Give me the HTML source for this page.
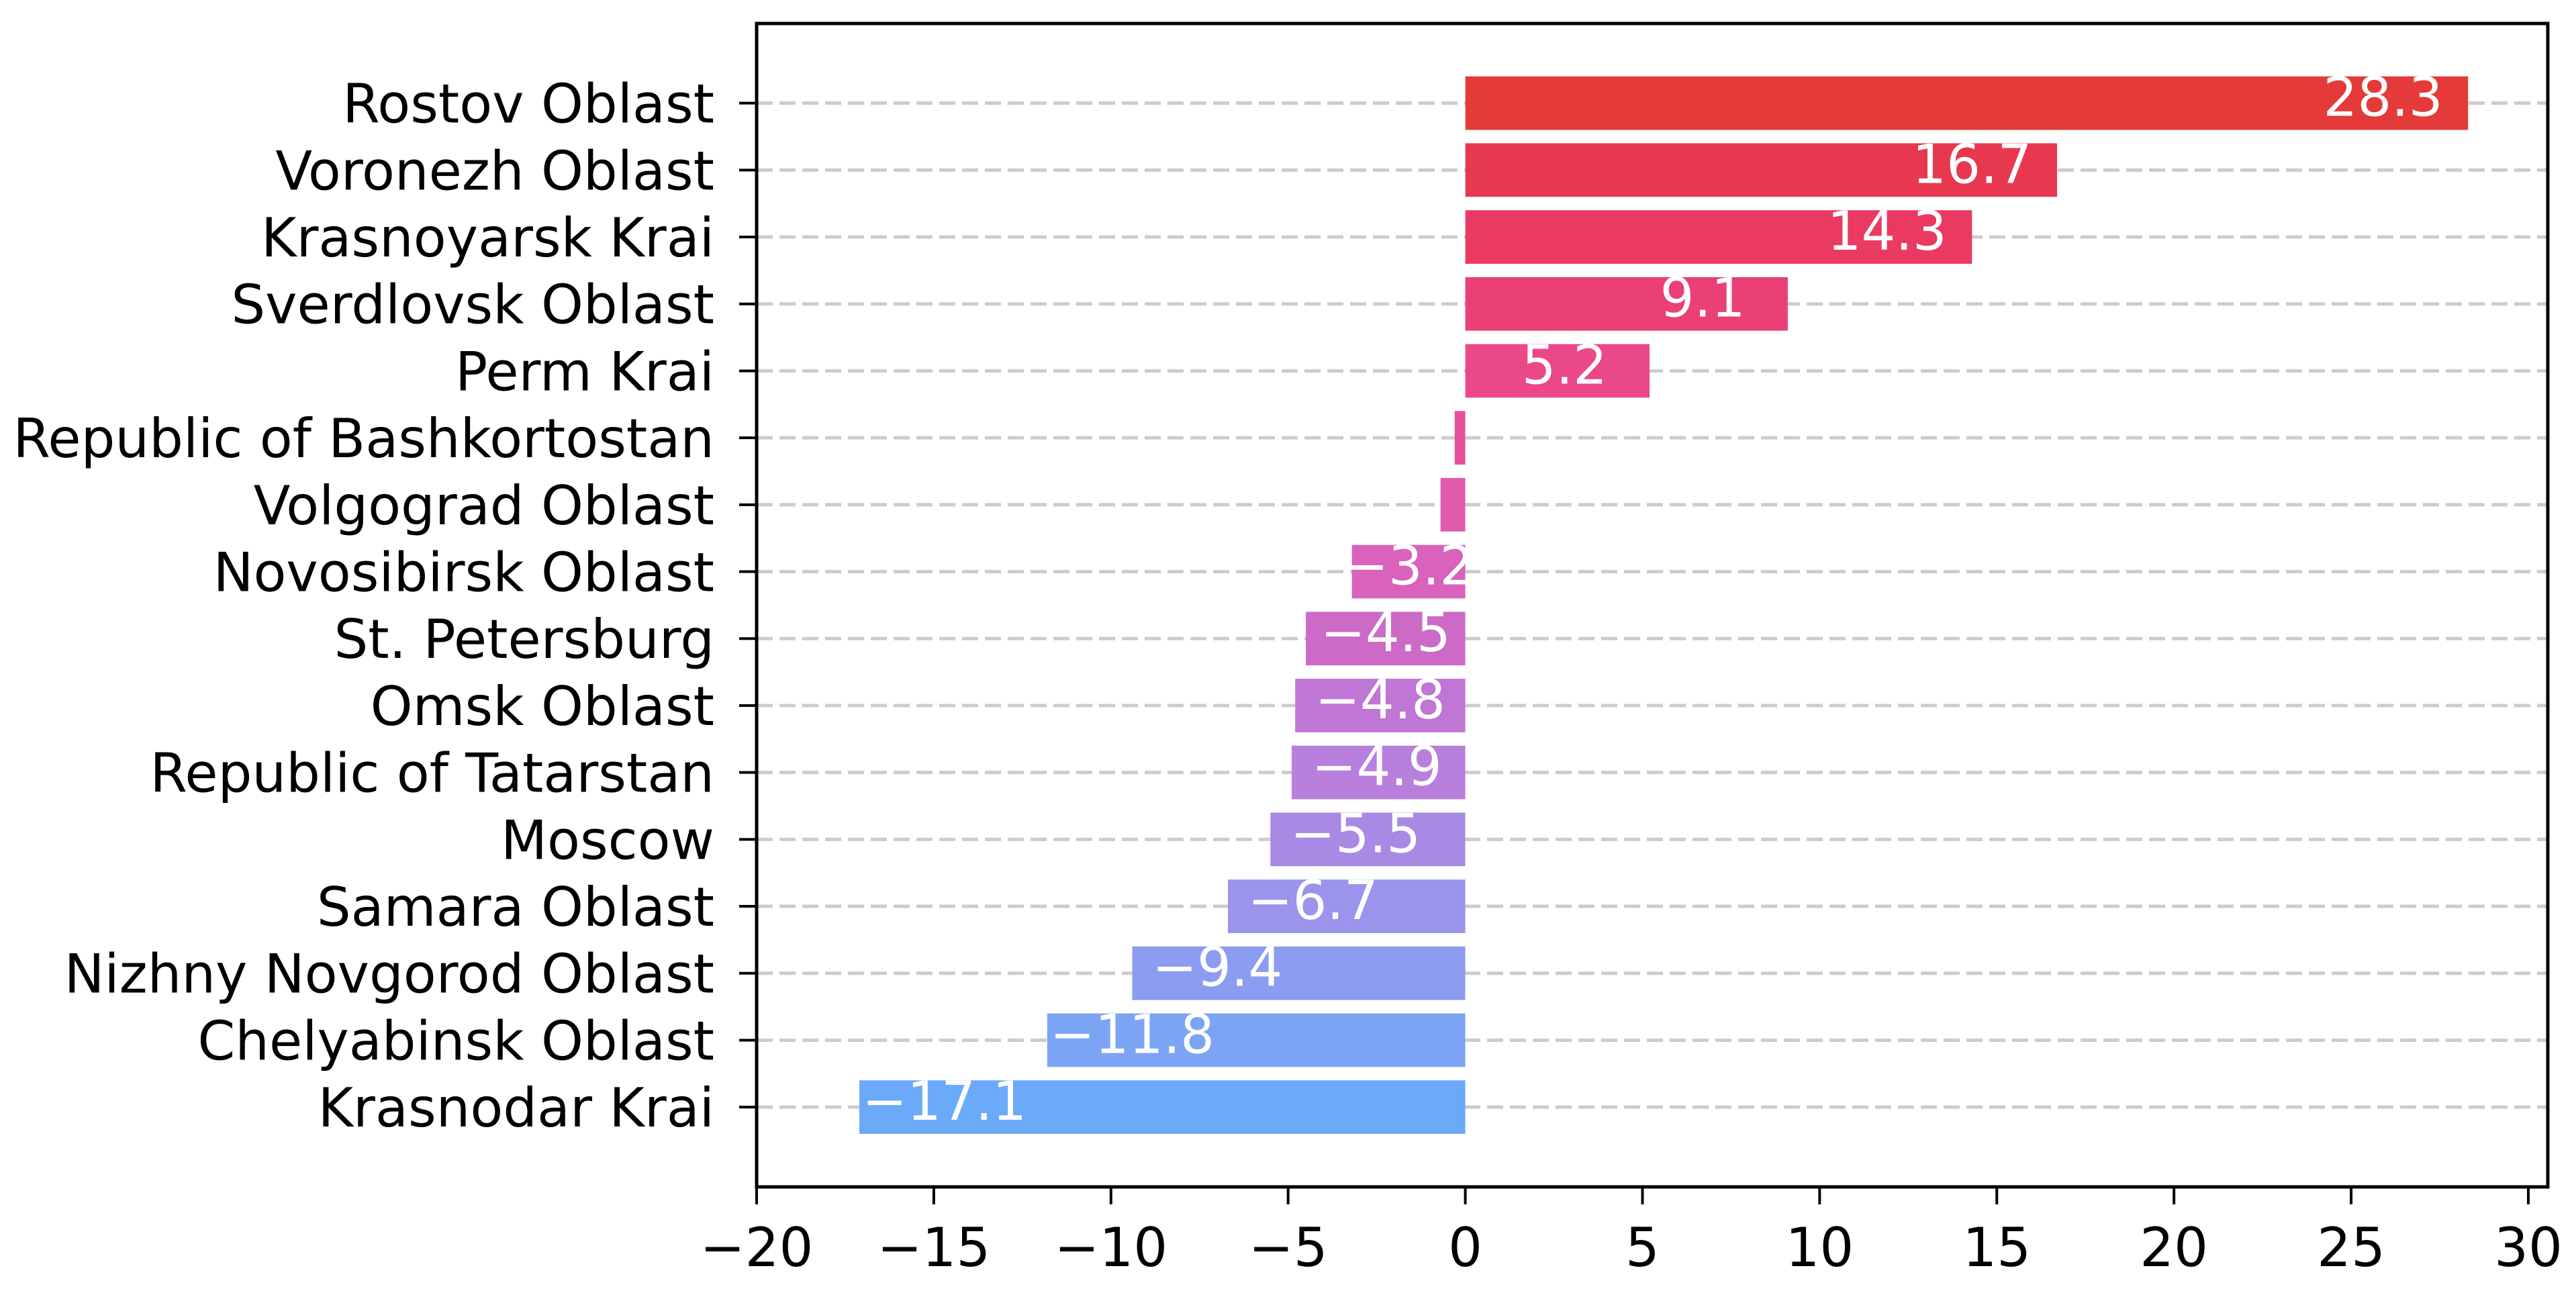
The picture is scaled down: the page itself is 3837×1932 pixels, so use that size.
<!DOCTYPE html>
<html><head><meta charset="utf-8"><style>
html,body{margin:0;padding:0;background:#fff;}
svg{display:block;}
text{font-family:"DejaVu Sans","Liberation Sans",sans-serif;}
</style></head><body>
<svg id="chart" width="3837" height="1932" viewBox="0 0 3837 1932" xmlns="http://www.w3.org/2000/svg">
<g id="grid"></g>
<g id="bars"></g>
<g id="vals"></g>
<g id="yaxis"></g>
<g id="xaxis"></g>
<rect x="1127" y="35" width="2668" height="1733" fill="none" stroke="#000" stroke-width="5"/>
</svg>
<script>
const categories = ["Rostov Oblast","Voronezh Oblast","Krasnoyarsk Krai","Sverdlovsk Oblast","Perm Krai","Republic of Bashkortostan","Volgograd Oblast","Novosibirsk Oblast","St. Petersburg","Omsk Oblast","Republic of Tatarstan","Moscow","Samara Oblast","Nizhny Novgorod Oblast","Chelyabinsk Oblast","Krasnodar Krai"];
const values = [28.3,16.7,14.3,9.1,5.2,-0.3,-0.7,-3.2,-4.5,-4.8,-4.9,-5.5,-6.7,-9.4,-11.8,-17.1];
const valueLabels = ["28.3","16.7","14.3","9.1","5.2","","","\u22123.2","\u22124.5","\u22124.8","\u22124.9","\u22125.5","\u22126.7","\u22129.4","\u221211.8","\u221217.1"];
const xTicks = [-20,-15,-10,-5,0,5,10,15,20,25,30];
const xTickLabels = ["\u221220","\u221215","\u221210","\u22125","0","5","10","15","20","25","30"];
const colors = ["#e53a3a","#e83850","#ea3a62","#ea4076","#ea4888","#e8509a","#e05aac","#d862bc","#cc6ac8","#c076d4","#b880dc","#a88ae4","#9a94ec","#8c9cf0","#7ca4f4","#6aaaf8"];

const NS="http://www.w3.org/2000/svg";
const X0=1127, X1=3795, XMIN=-20, XMAX=30.55;
function xs(v){return X0+(v-XMIN)*(X1-X0)/(XMAX-XMIN);}
function ys(i){return 35+(i+1.19)*99.7;}
function mk(tag,attrs,parent){const e=document.createElementNS(NS,tag);for(const k in attrs)e.setAttribute(k,attrs[k]);parent.appendChild(e);return e;}
const grid=document.getElementById('grid'),bars=document.getElementById('bars'),vals=document.getElementById('vals'),ya=document.getElementById('yaxis'),xa=document.getElementById('xaxis');
const bh=0.8*99.7;
categories.forEach((c,i)=>{
  const y=ys(i);
  const g=mk('line',{x1:X0,x2:X1,y1:y,y2:y,stroke:'#cccccc','stroke-width':5,'stroke-dasharray':'24 10'},grid);
  
  
  const v=values[i];
  const a=xs(Math.min(0,v)), b=xs(Math.max(0,v));
  const r=mk('rect',{x:a,y:y-bh/2,width:Math.max(b-a,0.5),height:bh,fill:colors[i]},bars);
  
  
  if(valueLabels[i]){
    const off=Math.min(2.4,Math.abs(v)/2);
    const cx = v>=0 ? xs(v-off) : xs(v+off);
    const t=mk('text',{x:cx,y:y+19,'text-anchor':'middle','font-size':80,fill:'#fff'},vals);
    t.textContent=valueLabels[i];
    
    
  }
  const tk=mk('line',{x1:X0-26,x2:X0,y1:y,y2:y,stroke:'#000','stroke-width':4},ya);
  
  
  const l=mk('text',{x:1064,y:y+29,'text-anchor':'end','font-size':80,fill:'#000'},ya);
  l.textContent=c;
  
  
});
xTicks.forEach((v,i)=>{
  const x=xs(v);
  const tk=mk('line',{x1:x,x2:x,y1:1768,y2:1794,stroke:'#000','stroke-width':4},xa);
  
  
  const l=mk('text',{x:x,y:1886,'text-anchor':'middle','font-size':80,fill:'#000'},xa);
  l.textContent=xTickLabels[i];
  
  
});
</script>
</body></html>
